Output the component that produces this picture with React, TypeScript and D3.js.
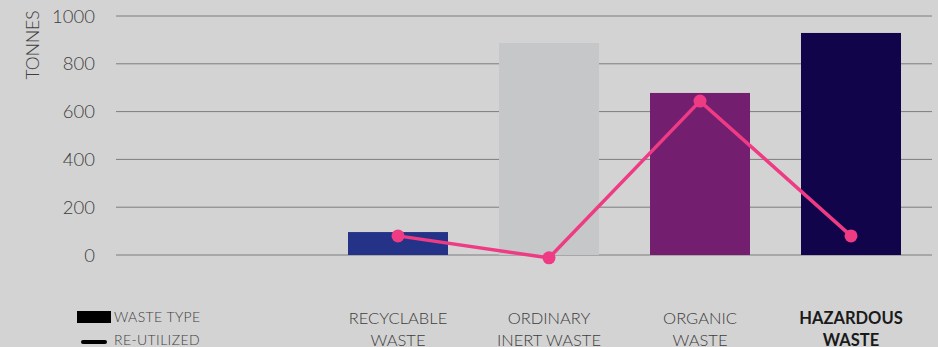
import React from "react";
import * as d3 from "d3";

const categories = ["RECYCLABLE|WASTE", "ORDINARY|INERT WASTE", "ORGANIC|WASTE", "HAZARDOUS|WASTE"];
const wasteType = [96, 887, 678, 929];
const reUtilized = [80, -12, 644, 80];
const barColors = ["#243387", "#c6c7c8", "#741e70", "#12044a"];
const yTicks = [0, 200, 400, 600, 800, 1000];
const boldCategory = "HAZARDOUS|WASTE";

const W = 938;
const H = 347;

export default function App() {
  const x = d3
    .scaleBand<string>()
    .domain(categories)
    .range([322.5, 926.5])
    .paddingInner(51 / 151)
    .paddingOuter(51 / 302);
  const y = d3.scaleLinear().domain([0, 1000]).range([255, 16]);
  const line = d3
    .line<number>()
    .x((_, i) => (x(categories[i]) as number) + x.bandwidth() / 2)
    .y((d) => y(d));
  const font = "Lato, 'Open Sans', sans-serif";

  return (
    <svg
      width={W}
      height={H}
      style={{ position: "absolute", left: 0, top: 0, display: "block" }}
      fontFamily={font}
    >
      <rect x={0} y={0} width={W} height={H} fill="#d3d3d3" />
      {yTicks.map((t) => (
        <g key={t}>
          <line x1={116} x2={932} y1={y(t)} y2={y(t)} stroke="#7d7d7d" strokeWidth={1} />
          <text
            x={95}
            y={y(t)}
            dy="0.36em"
            textAnchor="end"
            fontSize={18.5}
            fontWeight={300}
            fill="#3e3e3e"
          >
            {t}
          </text>
        </g>
      ))}
      <text
        transform="translate(39,45) rotate(-90)"
        textAnchor="middle"
        fontSize={17.5}
        fontWeight={300}
        fill="#3e3e3e"
      >
        TONNES
      </text>
      {categories.map((c, i) => (
        <rect
          key={c}
          x={x(c)}
          y={y(wasteType[i])}
          width={x.bandwidth()}
          height={y(0) - y(wasteType[i])}
          fill={barColors[i]}
        />
      ))}
      <path d={line(reUtilized) || ""} fill="none" stroke="#ee3b84" strokeWidth={3.5} />
      {reUtilized.map((v, i) => (
        <circle
          key={i}
          cx={(x(categories[i]) as number) + x.bandwidth() / 2}
          cy={y(v)}
          r={6.5}
          fill="#ee3b84"
        />
      ))}
      {categories.map((c) => {
        const lines = c.split("|");
        const bold = c === boldCategory;
        const cx = (x(c) as number) + x.bandwidth() / 2;
        return (
          <text
            key={c}
            textAnchor="middle"
            fontSize={16.5}
            fontWeight={bold ? 700 : 300}
            fill={bold ? "#1a1a1a" : "#3e3e3e"}
          >
            {lines.map((l, j) => (
              <tspan key={j} x={cx} y={323.5 + j * 22}>
                {l}
              </tspan>
            ))}
          </text>
        );
      })}
      <rect x={77} y={311} width={34} height={12} fill="#000" />
      <text x={114} y={322} fontSize={14} fontWeight={300} letterSpacing={0.4} fill="#3e3e3e">
        WASTE TYPE
      </text>
      <line x1={83} x2={105} y1={342} y2={342} stroke="#000" strokeWidth={4} strokeLinecap="round" />
      <text x={114} y={345} fontSize={14} fontWeight={300} letterSpacing={0.4} fill="#3e3e3e">
        RE-UTILIZED
      </text>
    </svg>
  );
}
